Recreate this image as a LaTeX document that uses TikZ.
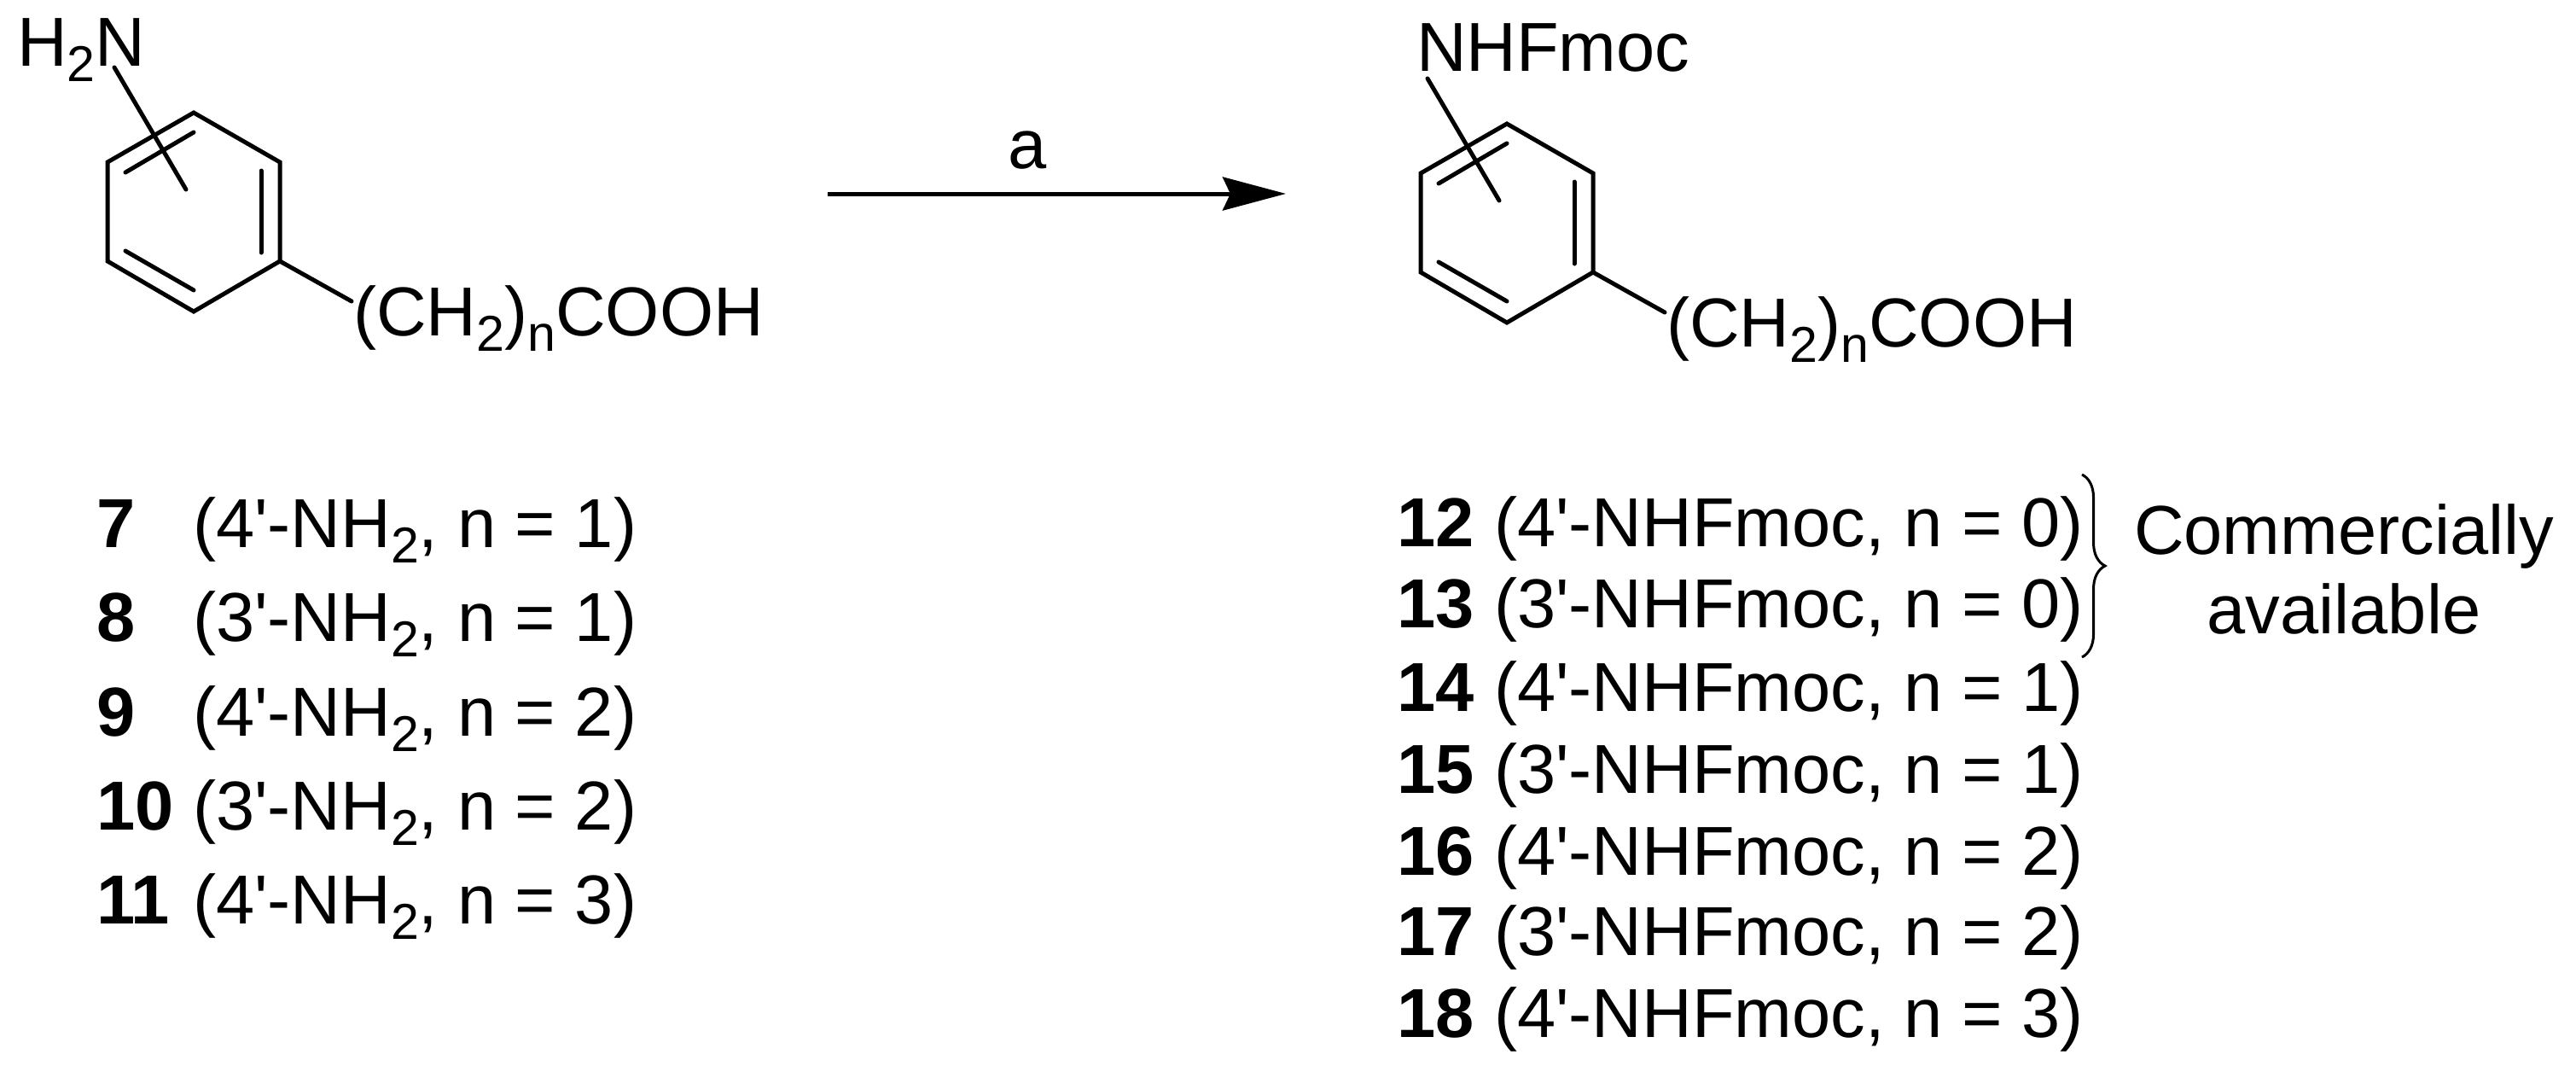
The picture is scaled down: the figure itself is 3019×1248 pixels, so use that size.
\documentclass[tikz,border=0pt]{standalone}
\usepackage{fontspec}
\setmainfont{Liberation Sans}
\usetikzlibrary{arrows.meta}
\usetikzlibrary{decorations.pathreplacing}
\newcommand{\lowtxt}[1]{\raisebox{-0.18cm}{\fontsize{16.8}{16.8}\selectfont #1}}
\tikzset{
    lbl/.style={anchor=base west,inner sep=0pt,outer sep=0pt,font=\fontsize{23.1}{26}\selectfont},
    boldlbl/.style={lbl,font=\fontsize{23.1}{26}\selectfont\bfseries},
    bond/.style={line width=0.05cm,line cap=round,line join=miter},
}

\begin{document}
\begin{tikzpicture}[>=stealth,x=0.01cm,y=-0.01cm]
            \useasboundingbox (0,0) rectangle (3019,1248);
            % the two rings with their side chains
            \foreach \nm/\ox/\oy/\lx/\ly/\ltxt in {l/0/0/20/77/{H\lowtxt{2}N},r/1539/13/1660/83/{NHFmoc}} {
                \begin{scope}[shift={(\ox,\oy)}]
                    \coordinate (\nm1) at (227,132);
                    \coordinate (\nm2) at (328,190);
                    \coordinate (\nm3) at (328,306);
                    \coordinate (\nm4) at (227,365);
                    \coordinate (\nm5) at (126,306);
                    \coordinate (\nm6) at (126,190);
                    \coordinate (\nm up) at (134,79);
                    \coordinate (\nm in) at (218,222);
                    \coordinate (\nm end) at (412,353);
                    \draw[bond] (\nm1) -- (\nm2) -- (\nm3) -- (\nm4) -- (\nm5) -- (\nm6) -- cycle;
                    \draw[bond] (227,155) -- (147,202);
                    \draw[bond] (306,200) -- (306,296);
                    \draw[bond] (147,294) -- (227,340);
                    \draw[bond] (\nm up) -- (\nm in);
                    \draw[bond] (\nm3) -- (\nm end);
                    \node[lbl] (\nm chain) at (414,393) {(CH\lowtxt{2})\lowtxt{n}COOH};
                \end{scope}
                \node[lbl] (\nm amine) at (\lx,\ly) {\ltxt};
            }
            % reaction arrow
            \coordinate (start) at (970,227);
            \coordinate (stop) at (1507,227);
            \draw[-{Stealth[length=0.74cm,width=0.39cm,inset=0.09cm]},line width=0.05cm] (start) -- (stop);
            \node[lbl,anchor=base] (cond) at (1204,197) {a};
            % starting materials
            \foreach \num/\yy/\pos/\n in {7/641/4/1,8/751/3/1,9/862/4/2,10/972/3/2,11/1082/4/3} {
                \node[boldlbl] (num\num) at (113,\yy) {\num};
                \node[lbl] (txt\num) at (226,\yy) {(\pos\textquotesingle-NH\lowtxt{2}, n = \n)};
            }
            % products
            \foreach \num/\yy/\pos/\n in {12/640/4/0,13/735/3/0,14/833/4/1,15/929/3/1,16/1025/4/2,17/1119/3/2,18/1215/4/3} {
                \node[boldlbl] (num\num) at (1637,\yy) {\num};
                \node[lbl] (txt\num) at (1751,\yy) {(\pos\textquotesingle-NHFmoc, n = \n)};
            }
            \coordinate (bracetop) at (2440,556);
            \coordinate (bracebot) at (2440,770);
            \draw[line width=0.03cm,decorate,decoration={brace,amplitude=0.27cm}] (bracetop) -- (bracebot);
            \node[lbl,anchor=base] (comm) at (2747,649) {Commercially};
            \node[lbl,anchor=base] (avail) at (2747,742) {available};
        \end{tikzpicture}
\end{document}
